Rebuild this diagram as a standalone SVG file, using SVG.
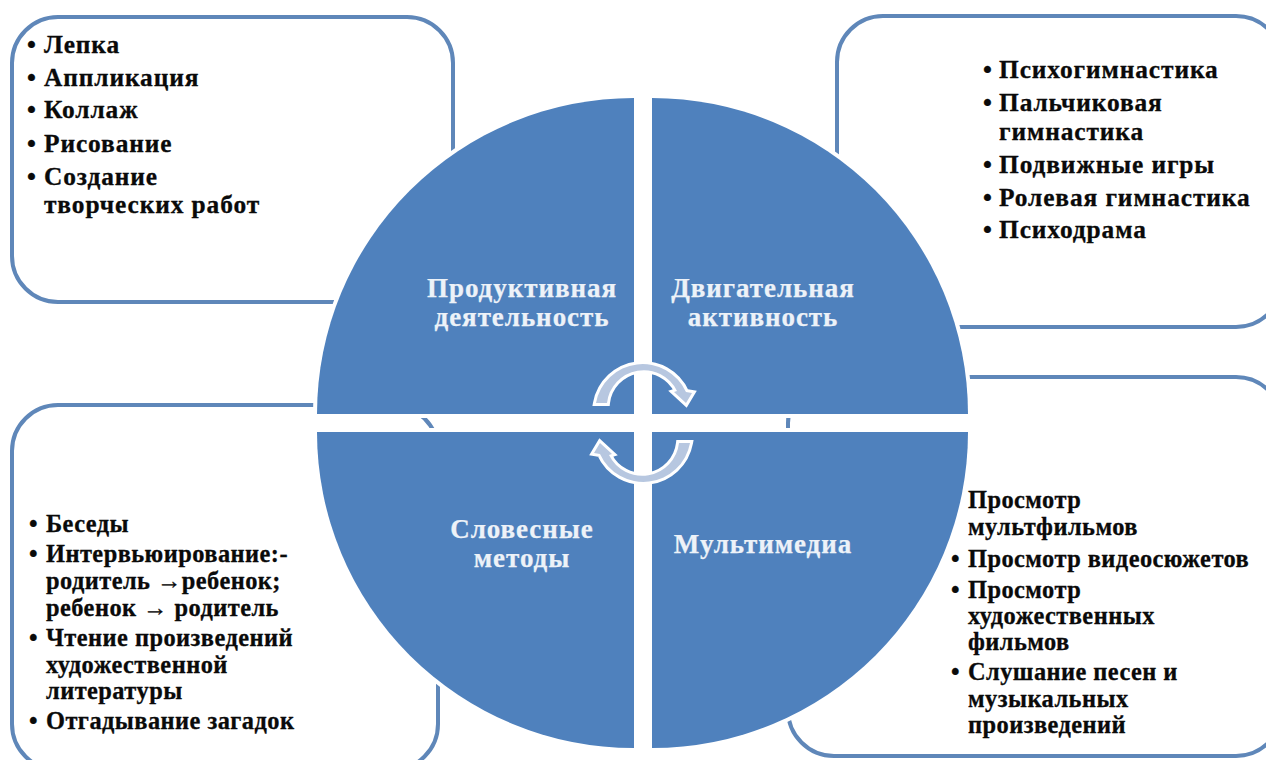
<svg xmlns="http://www.w3.org/2000/svg" width="1266" height="760" viewBox="0 0 1266 760">
<style>
.box{fill:#fff;stroke:#5f87b9;stroke-width:4}
.q{fill:#4f81bd;stroke:#fff;stroke-width:8;paint-order:stroke}
.t,.u{font-family:"Liberation Serif","Times New Roman",serif;font-weight:700;fill:#0a0a0a;stroke:#0a0a0a;stroke-width:.3px}
.t{font-size:25.4px;letter-spacing:.9px}
.u{font-size:24.4px;letter-spacing:.45px}
.h{font-family:"Liberation Serif","Times New Roman",serif;font-weight:700;font-size:27px;letter-spacing:.95px;fill:#edf2f8;stroke:#edf2f8;stroke-width:.25px;text-anchor:middle}
.arr{fill:#b7c7e0;stroke:#fff;stroke-width:6;stroke-linejoin:miter;paint-order:stroke}
</style>
<rect width="1266" height="760" fill="#fff"/>
<g id="box-productive">
<rect class="box" x="12" y="17" width="441" height="285" rx="46"/>
<text class="t" x="27" y="53">•</text><text class="t" x="44" y="53">Лепка</text>
<text class="t" x="27" y="86">•</text><text class="t" x="44" y="86">Аппликация</text>
<text class="t" x="27" y="118">•</text><text class="t" x="44" y="118">Коллаж</text>
<text class="t" x="27" y="152">•</text><text class="t" x="44" y="152">Рисование</text>
<text class="t" x="27" y="185">•</text><text class="t" x="44" y="185">Создание</text>
<text class="t" x="44" y="213">творческих работ</text>
</g>
<g id="box-motor">
<rect class="box" x="837" y="16" width="445" height="311" rx="46"/>
<text class="t" x="983" y="78">•</text><text class="t" x="999" y="78">Психогимнастика</text>
<text class="t" x="983" y="111">•</text><text class="t" x="999" y="111">Пальчиковая</text>
<text class="t" x="999" y="140">гимнастика</text>
<text class="t" x="983" y="173">•</text><text class="t" x="999" y="173">Подвижные игры</text>
<text class="t" x="983" y="206">•</text><text class="t" x="999" y="206">Ролевая гимнастика</text>
<text class="t" x="983" y="238">•</text><text class="t" x="999" y="238">Психодрама</text>
</g>
<g id="box-verbal">
<rect class="box" x="12" y="405" width="426" height="365" rx="46"/>
<text class="u" x="29" y="532">•</text><text class="u" x="46" y="532">Беседы</text>
<text class="u" x="29" y="562">•</text><text class="u" x="46" y="562">Интервьюирование:-</text>
<text class="u" x="46" y="589">родитель →ребенок;</text>
<text class="u" x="46" y="616">ребенок → родитель</text>
<text class="u" x="29" y="646">•</text><text class="u" x="46" y="646">Чтение произведений</text>
<text class="u" x="46" y="673">художественной</text>
<text class="u" x="46" y="699">литературы</text>
<text class="u" x="29" y="729">•</text><text class="u" x="46" y="729">Отгадывание загадок</text>
</g>
<g id="box-multimedia">
<rect class="box" x="788" y="377" width="494" height="379" rx="46"/>
<text class="u" x="968" y="508">Просмотр</text>
<text class="u" x="968" y="535">мультфильмов</text>
<text class="u" x="951" y="567">•</text><text class="u" x="968" y="567">Просмотр видеосюжетов</text>
<text class="u" x="951" y="598">•</text><text class="u" x="968" y="598">Просмотр</text>
<text class="u" x="968" y="624">художественных</text>
<text class="u" x="968" y="650">фильмов</text>
<text class="u" x="951" y="680">•</text><text class="u" x="968" y="680">Слушание песен и</text>
<text class="u" x="968" y="707">музыкальных</text>
<text class="u" x="968" y="733">произведений</text>
</g>
<g id="q-productive">
<path class="q" d="M634 414H317A317 316 0 0 1 634 98Z"/>
<text class="h" x="522" y="297">Продуктивная</text>
<text class="h" x="522" y="326">деятельность</text>
</g>
<g id="q-motor">
<path class="q" d="M652 414V98A316 316 0 0 1 968 414Z"/>
<text class="h" x="763" y="297">Двигательная</text>
<text class="h" x="763" y="326">активность</text>
</g>
<g id="q-verbal">
<path class="q" d="M634 432V748A317 316 0 0 1 317 432Z"/>
<text class="h" x="522" y="538">Словесные</text>
<text class="h" x="522" y="567">методы</text>
</g>
<g id="q-multimedia">
<path class="q" d="M652 432H968A316 316 0 0 1 652 748Z"/>
<text class="h" x="763" y="553">Мультимедиа</text>
</g>
<g id="connectors">
<path id="arrow-top" class="arr" d="M596 403A47.500 47.500 0 0 1 686 392L692 393L686 403L674 392L677 391A37 37 0 0 0 607 403Z"/>
<path id="arrow-bottom" class="arr" transform="rotate(180 643 423)" d="M596 403A47.500 47.500 0 0 1 686 392L692 393L686 403L674 392L677 391A37 37 0 0 0 607 403Z"/>
</g>
</svg>
